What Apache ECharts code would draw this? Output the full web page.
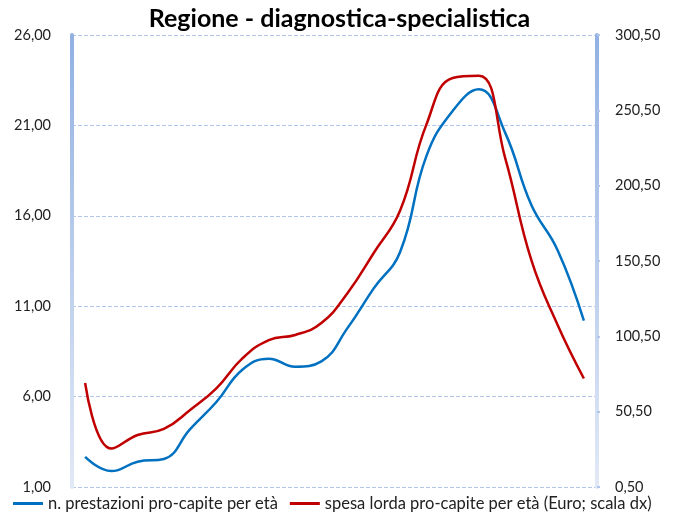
<!DOCTYPE html>
<html>
<head>
<meta charset="utf-8">
<script src="https://cdn.jsdelivr.net/npm/echarts@6/dist/echarts.min.js"></script>
<style>
  html, body { margin: 0; padding: 0; background: #fff; }
  #chart { width: 679px; height: 520px; }
</style>
</head>
<body>
<div id="chart"></div>
<script>
// age classes (x axis has no visible labels)
const ageClasses = ['0-4', '5-9', '10-14', '15-19', '20-24', '25-29', '30-34', '35-39', '40-44', '45-49',
  '50-54', '55-59', '60-64', '65-69', '70-74', '75-79', '80-84', '85-89', '90-94', '95+'];
const prestazioni = [2.66, 1.88, 2.4, 2.55, 4.2, 5.7, 7.5, 8.1, 7.65, 7.95,
  9.8, 12.0, 14.0, 19.3, 21.8, 23.0, 20.6, 16.6, 14.1, 10.2];
const spesaLorda = [69.5, 26, 35, 39, 51.6, 66, 86, 98, 101.4, 109.3,
  129.3, 156, 184, 241, 272, 273.5, 219, 151, 108, 72.5];
const leftTicks = { min: 1, max: 26, interval: 5 };
const rightTicks = { min: 0.5, max: 300.5, interval: 50 };

const fmt = v => v.toFixed(2).replace('.', ',');
const barGradient = new echarts.graphic.LinearGradient(0, 35, 0, 487, [
  { offset: 0, color: '#92b1e2' },
  { offset: 1, color: '#e2e9f6' }
], true);

const chart = echarts.init(document.getElementById('chart'));
chart.setOption({
  animation: false,
  textStyle: { fontFamily: 'Lato' },
  title: {
    text: 'Regione - diagnostica-specialistica',
    left: 'center',
    top: 1,
    textStyle: { fontSize: 25, fontWeight: 'bold', color: '#000', fontFamily: 'Lato' }
  },
  legend: {
    bottom: 3,
    left: 8,
    icon: 'rect',
    itemWidth: 30,
    itemHeight: 3,
    itemGap: 12,
    textStyle: { fontSize: 16.5, color: '#222' },
    data: ['n. prestazioni pro-capite per età', 'spesa lorda pro-capite per età (Euro; scala dx)']
  },
  grid: { left: 72, right: 82, top: 35, bottom: 33 },
  xAxis: {
    type: 'category',
    data: ageClasses,
    axisLine: { show: false },
    axisTick: { show: false },
    axisLabel: { show: false }
  },
  yAxis: [
    {
      type: 'value',
      min: leftTicks.min,
      max: leftTicks.max,
      interval: leftTicks.interval,
      axisLine: { show: true, lineStyle: { color: barGradient, width: 4 } },
      axisTick: { show: false },
      axisLabel: { formatter: fmt, color: '#222', fontSize: 14.5, margin: 21 },
      splitLine: { lineStyle: { color: '#b4c6e7', type: [4, 2], width: 1 } }
    },
    {
      type: 'value',
      min: rightTicks.min,
      max: rightTicks.max,
      interval: rightTicks.interval,
      position: 'right',
      axisLine: { show: true, lineStyle: { color: barGradient, width: 4 } },
      axisTick: { show: true, length: 3, lineStyle: { color: '#b4c6e7', width: 2 } },
      axisLabel: { formatter: fmt, color: '#222', fontSize: 14.5, margin: 18 },
      splitLine: { show: false }
    }
  ],
  series: [
    {
      name: 'n. prestazioni pro-capite per età',
      type: 'line',
      yAxisIndex: 0,
      smooth: 0.45,
      symbol: 'none',
      lineStyle: { color: '#0070c0', width: 2.5 },
      itemStyle: { color: '#0070c0' },
      data: prestazioni
    },
    {
      name: 'spesa lorda pro-capite per età (Euro; scala dx)',
      type: 'line',
      yAxisIndex: 1,
      smooth: 0.45,
      symbol: 'none',
      lineStyle: { color: '#c00000', width: 2.5 },
      itemStyle: { color: '#c00000' },
      data: spesaLorda
    }
  ]
});

window.addEventListener('resize', () => chart.resize());
</script>
</body>
</html>
